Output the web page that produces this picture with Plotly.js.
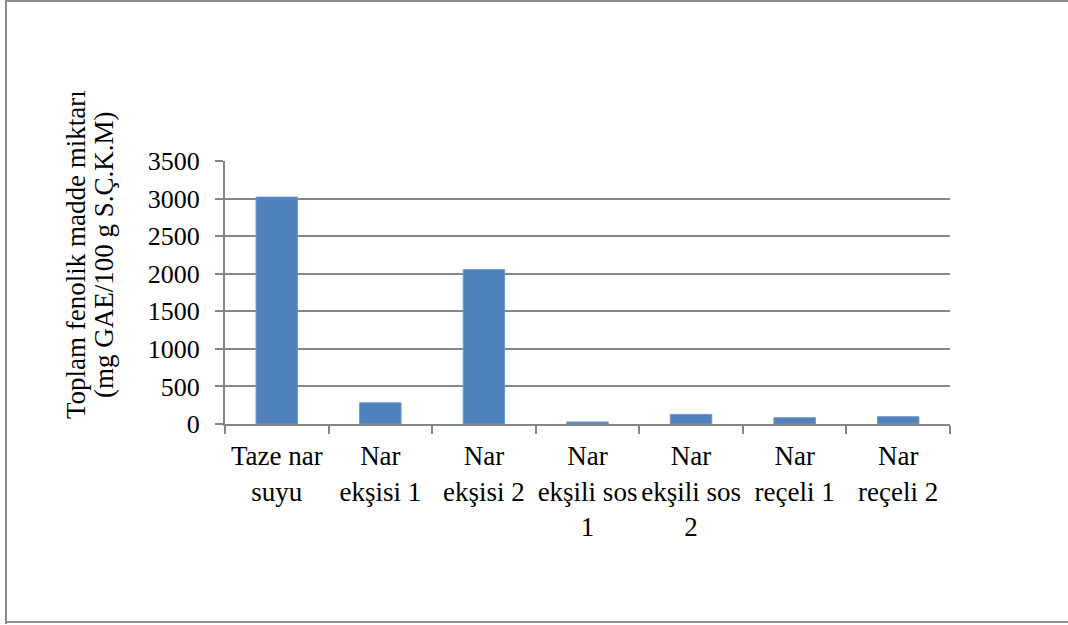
<!DOCTYPE html>
<html>
<head>
<meta charset="utf-8">
<script src="https://cdn.plot.ly/plotly-3.0.1.min.js"></script>
<style>
  html, body { margin: 0; padding: 0; background: #fff; }
  #wrap { position: relative; width: 1068px; height: 625px; overflow: hidden; }
  #chart { width: 1068px; height: 625px; }
  .bl { position: absolute; left: 5px; top: 0; width: 2px; height: 624px; background: #8c8c8c; }
  .bt { position: absolute; left: 5px; top: 0; width: 1063px; height: 2px; background: #8c8c8c; }
  .bb { position: absolute; left: 5px; top: 621px; width: 1063px; height: 2px; background: #8c8c8c; }
</style>
</head>
<body>
<div id="wrap">
  <div id="chart"></div>
  <div class="bl"></div><div class="bt"></div><div class="bb"></div>
</div>
<script>
const categories = [
  "Taze nar<br>suyu",
  "Nar<br>ekşisi 1",
  "Nar<br>ekşisi 2",
  "Nar<br>ekşili sos<br>1",
  "Nar<br>ekşili sos<br>2",
  "Nar<br>reçeli 1",
  "Nar<br>reçeli 2"
];
const values = [3020, 282, 2055, 27, 128, 84, 97];
const yTickVals = [0, 500, 1000, 1500, 2000, 2500, 3000, 3500];
const yTitleLine1 = "Toplam fenolik madde miktarı";
const yTitleLine2 = "(mg GAE/100 g S.Ç.K.M)";

const fontFamily = "Liberation Serif, Times New Roman, serif";

const trace = {
  type: "bar",
  x: categories,
  y: values,
  marker: { color: "#4F81BD", line: { color: "#6E98CC", width: 1 } },
  hoverinfo: "x+y"
};

const layout = {
  width: 1068,
  height: 625,
  margin: { l: 225, r: 118, t: 161, b: 201 },
  paper_bgcolor: "#ffffff",
  plot_bgcolor: "#ffffff",
  showlegend: false,
  bargap: 0.6,
  font: { family: fontFamily, size: 26, color: "#000000" },
  xaxis: {
    type: "category",
    tickson: "boundaries",
    ticks: "outside",
    ticklen: 8,
    tickwidth: 2,
    tickcolor: "#868686",
    showline: true,
    linecolor: "#868686",
    linewidth: 2,
    showgrid: false,
    tickangle: 0,
    ticklabelstandoff: 7,
    tickfont: { family: fontFamily, size: 27, color: "#000" }
  },
  yaxis: {
    range: [0, 3500],
    tickvals: yTickVals,
    ticktext: yTickVals.map(String),
    ticks: "outside",
    ticklen: 8,
    tickwidth: 2,
    tickcolor: "#868686",
    showline: true,
    linecolor: "#868686",
    linewidth: 2,
    showgrid: true,
    gridcolor: "#868686",
    gridwidth: 2,
    zeroline: false,
    ticklabelstandoff: 10,
    tickfont: { family: fontFamily, size: 26, color: "#000" }
  },
  annotations: [
    {
      text: yTitleLine1,
      xref: "paper", yref: "paper",
      x: -(225 - 76) / 725, y: (424 - 255) / 263,
      xanchor: "center", yanchor: "middle",
      textangle: -90, showarrow: false,
      font: { family: fontFamily, size: 27, color: "#000" }
    },
    {
      text: yTitleLine2,
      xref: "paper", yref: "paper",
      x: -(225 - 104) / 725, y: (424 - 255) / 263,
      xanchor: "center", yanchor: "middle",
      textangle: -90, showarrow: false,
      font: { family: fontFamily, size: 27, color: "#000" }
    }
  ]
};

Plotly.newPlot("chart", [trace], layout, { displayModeBar: false, staticPlot: true });
</script>
</body>
</html>
